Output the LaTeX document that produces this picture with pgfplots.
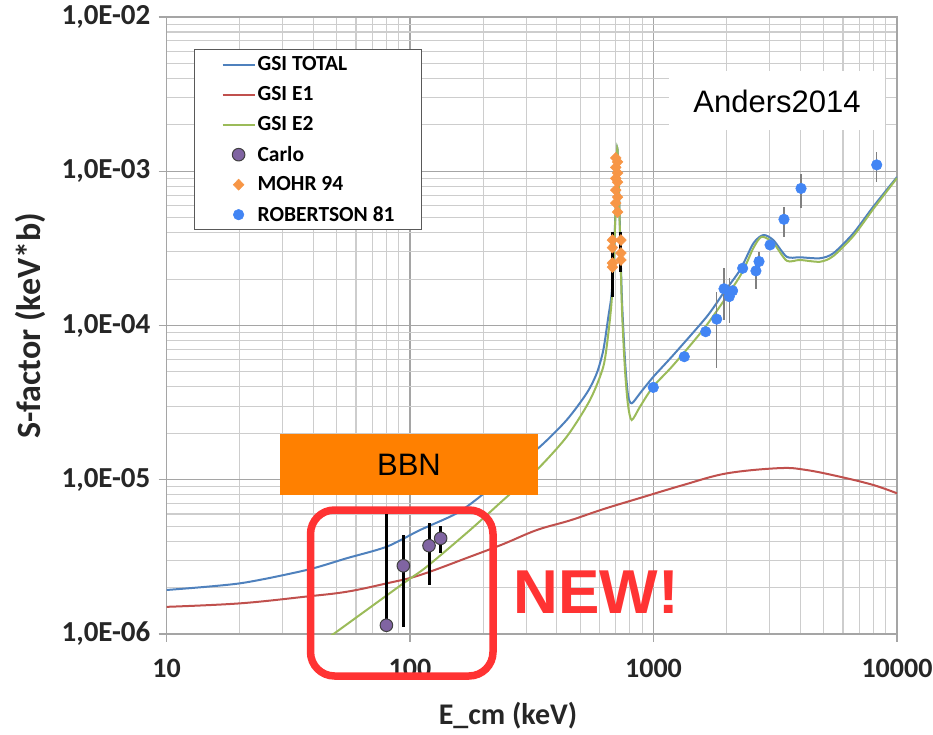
\documentclass[border=0pt]{standalone}
\usepackage{fontspec}
\setmainfont{Carlito}
\newfontfamily\arialfont{Liberation Sans}
\usepackage{pgfplots}
\pgfplotsset{compat=1.18}

\definecolor{gsiblue}{RGB}{79,129,189}
\definecolor{gsired}{RGB}{192,80,77}
\definecolor{gsigreen}{RGB}{155,187,89}
\definecolor{carlofill}{RGB}{128,100,162}
\definecolor{mohr}{RGB}{247,150,70}
\definecolor{robertson}{RGB}{66,133,244}
\definecolor{bbnorange}{RGB}{255,128,0}
\definecolor{newred}{RGB}{255,51,51}
\definecolor{majorgrid}{RGB}{165,165,165}
\definecolor{minorgrid}{RGB}{205,205,205}

\pgfplotsset{
  linelegend/.style={legend image code/.code={\draw[##1] (0pt,0pt) -- (32pt,0pt);}},
  marklegend/.style={legend image code/.code={\draw[##1, mark repeat=2, mark phase=2] plot coordinates {(0pt,0pt) (16pt,0pt) (32pt,0pt)};}},
}

\begin{document}
\begin{tikzpicture}
\useasboundingbox (0,0) rectangle (933pt,734pt);
\begin{loglogaxis}[
  at={(166.5pt,100pt)}, anchor=south west,
  scale only axis, width=730.5pt, height=617pt,
  xmin=10, xmax=10000, ymin=1e-6, ymax=1e-2,
  xtick={10,100,1000,10000}, xticklabels={10,100,1000,10000},
  ytick={1e-6,1e-5,1e-4,1e-3,1e-2},
  yticklabels={{1,0E-06},{1,0E-05},{1,0E-04},{1,0E-03},{1,0E-02}},
  minor xtick={20,30,40,50,60,70,80,90,200,300,400,500,600,700,800,900,2000,3000,4000,5000,6000,7000,8000,9000},
  minor ytick={2e-6,3e-6,4e-6,5e-6,6e-6,7e-6,8e-6,9e-6,2e-5,3e-5,4e-5,5e-5,6e-5,7e-5,8e-5,9e-5,2e-4,3e-4,4e-4,5e-4,6e-4,7e-4,8e-4,9e-4,2e-3,3e-3,4e-3,5e-3,6e-3,7e-3,8e-3,9e-3},
  xmajorgrids, ymajorgrids, xminorgrids, yminorgrids,
  major grid style={majorgrid, line width=1.3pt},
  minor grid style={minorgrid, line width=1.1pt},
  axis line style={draw=majorgrid, line width=1.3pt},
  tick align=outside, tick pos=left,
  major tick length=8pt, minor tick length=0pt,
  tick style={majorgrid, line width=1.3pt},
  xticklabel style={font=\bfseries\fontsize{28}{32}\selectfont, text=black!85, inner sep=0pt, anchor=north, yshift=-17pt},
  yticklabel style={font=\bfseries\fontsize{29}{33}\selectfont, text=black!85, inner sep=0pt, anchor=east, xshift=-8pt},
  xlabel={\bfseries E\_cm (keV)},
  ylabel={\bfseries S-factor (keV*b)},
  xlabel style={at={(axis description cs:0.4675,-0.1329)}, anchor=center, font=\fontsize{30}{34}\selectfont, text=black!85},
  ylabel style={at={(axis description cs:-0.1869,0.5)}, anchor=center, font=\fontsize{34}{38}\selectfont, text=black!85},
  legend cell align=left,
  legend style={at={(rel axis cs:0.0376,0.9481)}, anchor=north west,
    draw=black!65, line width=1.3pt, fill=white,
    inner xsep=27pt, inner ysep=0pt, row sep=0pt,
    font=\bfseries\fontsize{21.5}{25}\selectfont,
    nodes={inner sep=0pt, minimum height=30pt},
    /tikz/every odd column/.append style={column sep=2pt}},
]

% GSI calculation: total S-factor
\addplot[gsiblue, line width=2pt, no markers, smooth, tension=0.45, linelegend] coordinates {
(10,1.93e-6) (20,2.13e-6) (37.6,2.60e-6) (55.0,3.10e-6) (80.2,3.68e-6)
(109.9,4.72e-6) (155.5,6.06e-6) (200,8.09e-6) (257.4,1.156e-5) (342,1.64e-5)
(440,2.44e-5) (531.7,3.64e-5) (584.6,4.90e-5) (622.1,6.93e-5) (652.4,1.14e-4)
(673.6,1.63e-4) (688.5,3.09e-4) (701.5,7.01e-4) (710.1,1.415e-3) (719.5,8.78e-4)
(728.4,4.16e-4) (742.3,1.46e-4) (763.8,5.97e-5) (785.8,3.54e-5) (813.8,3.13e-5)
(880.4,3.64e-5) (996,4.63e-5) (1206,6.44e-5) (1654,1.14e-4) (1935,1.62e-4)
(2266,2.29e-4) (2571,3.41e-4) (2825,3.86e-4) (3105,3.58e-4) (3524,2.79e-4)
(3995,2.77e-4) (4829,2.73e-4) (5475,2.94e-4) (6615,3.96e-4) (7990,5.89e-4)
(10000,9.18e-4)
};
\addlegendentry{GSI TOTAL}

% E1 component
\addplot[gsired, line width=2pt, no markers, smooth, tension=0.6, linelegend] coordinates {
(10,1.50e-6) (20,1.58e-6) (37.6,1.75e-6) (55.0,1.88e-6) (80.2,2.13e-6)
(109.9,2.41e-6) (176.4,3.17e-6) (241.6,3.83e-6) (331.4,4.72e-6) (454,5.45e-6)
(622.1,6.45e-6) (880.4,7.62e-6) (1326,9.25e-6) (1998,1.10e-5) (3307,1.19e-5)
(4258,1.156e-5) (5834,1.046e-5) (7990,9.25e-6) (10000,8.17e-6)
};
\addlegendentry{GSI E1}

% E2 component
\addplot[gsigreen, line width=2pt, no markers, smooth, tension=0.45, linelegend] coordinates {
(42.7,8.64e-7) (50.0,1.035e-6) (93.9,2.13e-6) (117.1,2.73e-6) (176.4,4.72e-6)
(241.6,7.39e-6) (331.4,1.156e-5) (440,1.90e-5) (548.5,3.29e-5) (622.1,5.41e-5)
(652.4,8.90e-5) (673.6,1.46e-4) (688.5,2.86e-4) (701.5,6.81e-4) (710.1,1.415e-3)
(719.5,8.52e-4) (728.4,3.86e-4) (742.3,1.26e-4) (763.8,5.15e-5) (785.8,3.05e-5)
(813.8,2.44e-5) (880.4,2.98e-5) (996,4.01e-5) (1206,5.54e-5) (1654,1.007e-4)
(2266,2.09e-4) (2571,3.18e-4) (2782,3.76e-4) (3105,3.43e-4) (3524,2.63e-4)
(3995,2.66e-4) (4829,2.59e-4) (5475,2.82e-4) (6615,3.80e-4) (7990,5.69e-4)
(10000,9.04e-4)
};
\addlegendentry{GSI E2}

% new low-energy points
\addplot[only marks, mark=*, mark size=6.3pt,
  mark options={fill=carlofill, draw=black!75, line width=1pt}, marklegend,
  error bars/.cd, y dir=both, y explicit,
  error bar style={black, line width=3pt}, error mark=none]
  table[x=E, y=S, y error plus=ep, y error minus=em, row sep=\\] {
  E S ep em \\
  80.0 1.14e-6 4.86e-6 0 \\
  93.9 2.77e-6 1.61e-6 1.66e-6 \\
  119.7 3.74e-6 1.49e-6 1.66e-6 \\
  133.6 4.17e-6 0.83e-6 0.83e-6 \\
};
\addlegendentry{Carlo}

% MOHR 94, resonance scan
\addplot[only marks, mark=diamond*, mark size=5.5pt,
  mark options={fill=mohr, draw=mohr, line width=0.5pt, xscale=1.3}, marklegend,
  error bars/.cd, y dir=both, y explicit,
  error bar style={black, line width=3pt}, error mark=none]
  table[x=E, y=S, y error plus=ep, y error minus=em, row sep=\\] {
  E S ep em \\
  700 1.22e-3 0 0 \\
  712 1.15e-3 0 0 \\
  700 1.06e-3 0 0 \\
  712 9.75e-4 0 0 \\
  700 9.00e-4 0 0 \\
  712 8.50e-4 0 0 \\
  700 7.55e-4 0 0 \\
  712 6.80e-4 0 0 \\
  700 6.22e-4 0 0 \\
  712 5.44e-4 0 0 \\
  678 3.58e-4 0 0 \\
  678 3.20e-4 0 0 \\
  678 2.54e-4 1.50e-4 1.01e-4 \\
  678 2.39e-4 0 0 \\
  735 3.58e-4 0 0 \\
  735 2.95e-4 1.09e-4 0.73e-4 \\
  735 2.66e-4 0 0 \\
};
\addlegendentry{MOHR 94}

% ROBERTSON 81
\addplot[only marks, mark=*, mark size=5.3pt,
  mark options={fill=robertson, draw=robertson, line width=0.5pt}, marklegend,
  error bars/.cd, y dir=both, y explicit,
  error bar style={black!50, line width=1.5pt}, error mark=none]
  table[x=E, y=S, y error plus=ep, y error minus=em, row sep=\\] {
  E S ep em \\
  998 3.97e-5 0 0 \\
  1338 6.28e-5 0 0 \\
  1638 9.12e-5 0 0 \\
  1818 1.10e-4 0.56e-4 0.568e-4 \\
  1948 1.73e-4 0.62e-4 0.64e-4 \\
  2113 1.68e-4 0 0 \\
  2047 1.54e-4 0.50e-4 0.50e-4 \\
  2323 2.35e-4 0 0 \\
  2634 2.26e-4 0.53e-4 0.53e-4 \\
  2712 2.60e-4 0.40e-4 0.40e-4 \\
  3010 3.33e-4 0 0 \\
  3434 4.88e-4 1.01e-4 1.11e-4 \\
  4035 7.74e-4 1.81e-4 1.99e-4 \\
  8254 1.10e-3 0.24e-3 0.245e-3 \\
};
\addlegendentry{ROBERTSON 81}

\end{loglogaxis}

% annotations, in picture units measured from the top left corner
\begin{scope}[shift={(0pt,734pt)}, x=1pt, y=-1pt]
  \fill[bbnorange] (280,434) rectangle (538,495);
  \node[font=\arialfont\fontsize{31}{36}\selectfont] at (409,465) {BBN};
  \draw[newred, line width=7.5pt, rounded corners=24pt] (310.5,510) rectangle (493,676);
  \node[font=\arialfont\bfseries\fontsize{62}{70}\selectfont, text=newred] at (596,592) {NEW!};
  \fill[white] (669,71) rectangle (885,130);
  \node[font=\arialfont\fontsize{31}{36}\selectfont] at (777,101) {Anders2014};
\end{scope}
\end{tikzpicture}
\end{document}
